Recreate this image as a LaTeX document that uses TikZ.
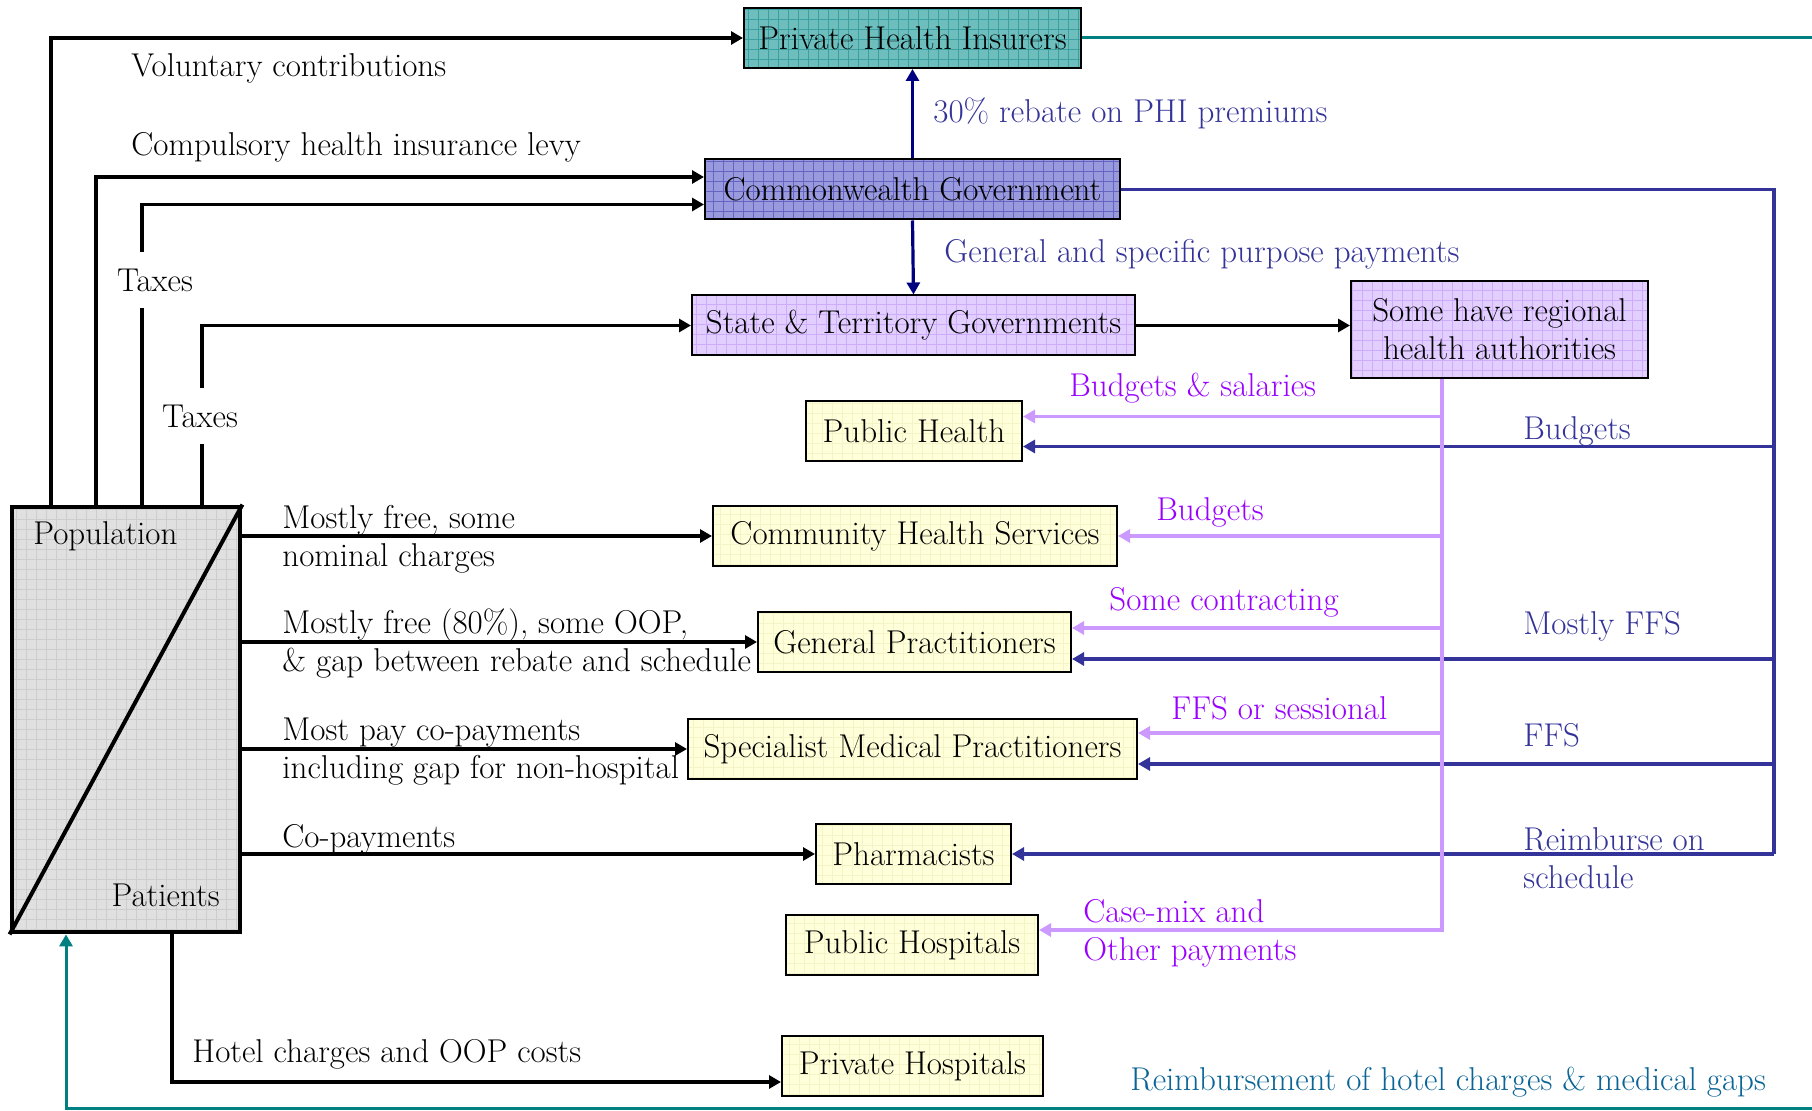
\documentclass[tikz,border=0pt]{standalone}
\usepackage{tikz}
\usetikzlibrary{arrows.meta,positioning}

\definecolor{phifill}{RGB}{110,190,190}
\definecolor{phigrid}{RGB}{60,160,160}
\definecolor{cwfill}{RGB}{153,153,221}
\definecolor{cwgrid}{RGB}{100,100,195}
\definecolor{stfill}{RGB}{226,206,255}
\definecolor{stgrid}{RGB}{205,172,252}
\definecolor{ylfill}{RGB}{255,255,218}
\definecolor{ylgrid}{RGB}{244,244,200}
\definecolor{popfill}{RGB}{224,224,224}
\definecolor{popgrid}{RGB}{205,205,205}
\definecolor{cwblue}{RGB}{51,51,153}
\definecolor{navyline}{RGB}{0,0,128}
\definecolor{lilac}{RGB}{204,153,255}
\definecolor{purptxt}{RGB}{153,0,255}
\definecolor{tealline}{RGB}{0,128,128}
\definecolor{tealtxt}{RGB}{10,100,150}

\begin{document}
\begin{tikzpicture}[
  x=0.5pt, y=-0.5pt,
  >={Triangle[length=6pt,width=6.5pt]},
  every node/.style={font=\fontsize{16.5}{19}\selectfont},
  gridbg/.style={path picture={\draw[#1,line width=0.25pt,step=5pt]
      (path picture bounding box.south west) grid (path picture bounding box.north east);}},
  box/.style={draw,line width=1pt,minimum height=30pt,inner sep=2pt},
  ybox/.style={box,fill=ylfill,gridbg=ylgrid},
  flow/.style={->,line width=1.8pt},
  seg/.style={line width=1.8pt},
  cwline/.style={cwblue,line width=1.6pt},
  cwarrow/.style={cwline,->},
  navyarrow/.style={->,navyline,line width=1.6pt},
  lilarrow/.style={->,lilac,line width=1.6pt},
  tealpath/.style={tealline,line width=1.5pt},
  lbl/.style={anchor=west,inner sep=0pt,align=left},
  bluetxt/.style={lbl,text=cwblue},
  purplbl/.style={lbl,text=purptxt}
]
\useasboundingbox (0,0) rectangle (1812,1111);

% boxes
\node[box,fill=phifill,gridbg=phigrid,minimum width=168.5pt] (phi) at (912.5,38) {Private Health Insurers};
\node[box,fill=cwfill,gridbg=cwgrid,minimum width=207.5pt] (cw) at (912.5,189.5) {Commonwealth Government};
\node[box,fill=stfill,gridbg=stgrid,minimum width=221.5pt] (st) at (913.5,325.5) {State \& Territory Governments};
\node[box,fill=stfill,gridbg=stgrid,minimum width=148.5pt,minimum height=48.5pt,align=center] (reg) at (1499.5,329.5) {Some have regional\\health authorities};
\node[ybox,minimum width=108pt] (pubh) at (914,431.5) {Public Health};
\node[ybox,minimum width=202pt] (chs) at (915,536) {Community Health Services};
\node[ybox,minimum width=156.5pt] (gp) at (914.5,642) {General Practitioners};
\node[ybox,minimum width=224.5pt] (spec) at (912.5,749) {Specialist Medical Practitioners};
\node[ybox,minimum width=97.5pt] (pharm) at (913.5,854) {Pharmacists};
\node[ybox,minimum width=126pt] (puhosp) at (912,945) {Public Hospitals};
\node[ybox,minimum width=130.5pt] (prhosp) at (912.5,1066.5) {Private Hospitals};
\node[draw,line width=2.4pt,fill=popfill,gridbg=popgrid,minimum width=114pt,minimum height=212.5pt] (pop) at (126,719.5) {};
\draw[line width=2pt] (pop.south west) -- (pop.north east);
\node[lbl] (popl) at (33,536) {Population};
\node[lbl,anchor=east] (patl) at (220,895) {Patients};

% helper coordinates
\coordinate (xv) at (51,0);
\coordinate (xc) at (96,0);
\coordinate (xt) at (142,0);
\coordinate (xs) at (202,0);
\coordinate (xh) at (172,0);
\coordinate (xr) at (66,0);
\coordinate (xb) at (1774,0);
\coordinate (xl) at (1442,0);
\coordinate (phL) at ([yshift=7.5pt]pubh.east);
\coordinate (phB) at ([yshift=-7.5pt]pubh.east);
\coordinate (gpL) at ([yshift=7pt]gp.east);
\coordinate (gpB) at ([yshift=-8.5pt]gp.east);
\coordinate (spL) at ([yshift=8pt]spec.east);
\coordinate (spB) at ([yshift=-7.5pt]spec.east);
\coordinate (hoL) at ([yshift=7.5pt]puhosp.east);
\coordinate (tR) at (1812,38);
\coordinate (tB) at (1812,1109);

% population to funders
\node[lbl] (lvol) at (131,68) {Voluntary contributions};
\node[lbl] (lcomp) at (131,147) {Compulsory health insurance levy};
\node[inner xsep=0pt,inner ysep=8pt] (tax1) at (155,280) {Taxes};
\node[inner xsep=0pt,inner ysep=8pt] (tax2) at (200,416) {Taxes};
\draw[flow] (pop.north -| xv) |- (phi.west);
\draw[flow] (pop.north -| xc) |- ([yshift=6.25pt]cw.west);
\draw[seg] (pop.north -| xt) -- (xt |- tax1.south);
\draw[flow] (xt |- tax1.north) |- ([yshift=-7.5pt]cw.west);
\draw[seg] (pop.north -| xs) -- (xs |- tax2.south);
\draw[flow] (xs |- tax2.north) |- (st.west);

% government flows
\draw[navyarrow] (cw.north) -- (phi.south);
\draw[navyarrow] (cw.south) -- (st.north);
\node[bluetxt] (lreb) at (933,113) {30\% rebate on PHI premiums};
\node[bluetxt] (lgsp) at (944,254) {General and specific purpose payments};
\draw[flow] (st.east) -- (reg.west |- st.east);

% commonwealth payments
\draw[cwline] (cw.east) -| (xb |- pharm.east);
\foreach \t in {phB,gpB,spB,pharm.east}
  \draw[cwarrow] (xb |- \t) -- (\t);
\node[bluetxt] at (1523,431) {Budgets};
\node[bluetxt] at (1523,626) {Mostly FFS};
\node[bluetxt] at (1523,735) {FFS};
\node[bluetxt] at (1523,858) {Reimburse on\\schedule};

% state payments
\draw[lilarrow] (reg.south -| xl) |- (hoL);
\foreach \t in {phL,chs.east,gpL,spL}
  \draw[lilarrow] (xl |- \t) -- (\t);
\node[purplbl] at (1069,388) {Budgets \& salaries};
\node[purplbl] at (1156,512) {Budgets};
\node[purplbl] at (1109,602) {Some contracting};
\node[purplbl] at (1171,708) {FFS or sessional};
\node[purplbl] at (1083,933) {Case-mix and\\Other payments};

% patients to providers
\draw[flow] (pop.east |- chs) -- (chs.west);
\draw[flow] (pop.east |- gp) -- (gp.west);
\draw[flow] (pop.east |- spec) -- (spec.west);
\draw[flow] (pop.east |- pharm) -- (pharm.west);
\draw[flow] (pop.south -| xh) |- ([yshift=-7.75pt]prhosp.west);
\node[lbl] at (282,539) {Mostly free, some\\nominal charges};
\node[lbl] at (282,644) {Mostly free (80\%), some OOP,\\\& gap between rebate and schedule};
\node[lbl] at (282,752) {Most pay co-payments\\including gap for non-hospital};
\node[lbl] at (282,839) {Co-payments};
\node[lbl] at (192,1054) {Hotel charges and OOP costs};

% insurer reimbursement
\draw[tealpath] (phi.east) -- (tR);
\draw[tealpath,->] (tB) -| (pop.south -| xr);
\node[lbl,text=tealtxt] at (1130,1082) {Reimbursement of hotel charges \& medical gaps};
\end{tikzpicture}
\end{document}
